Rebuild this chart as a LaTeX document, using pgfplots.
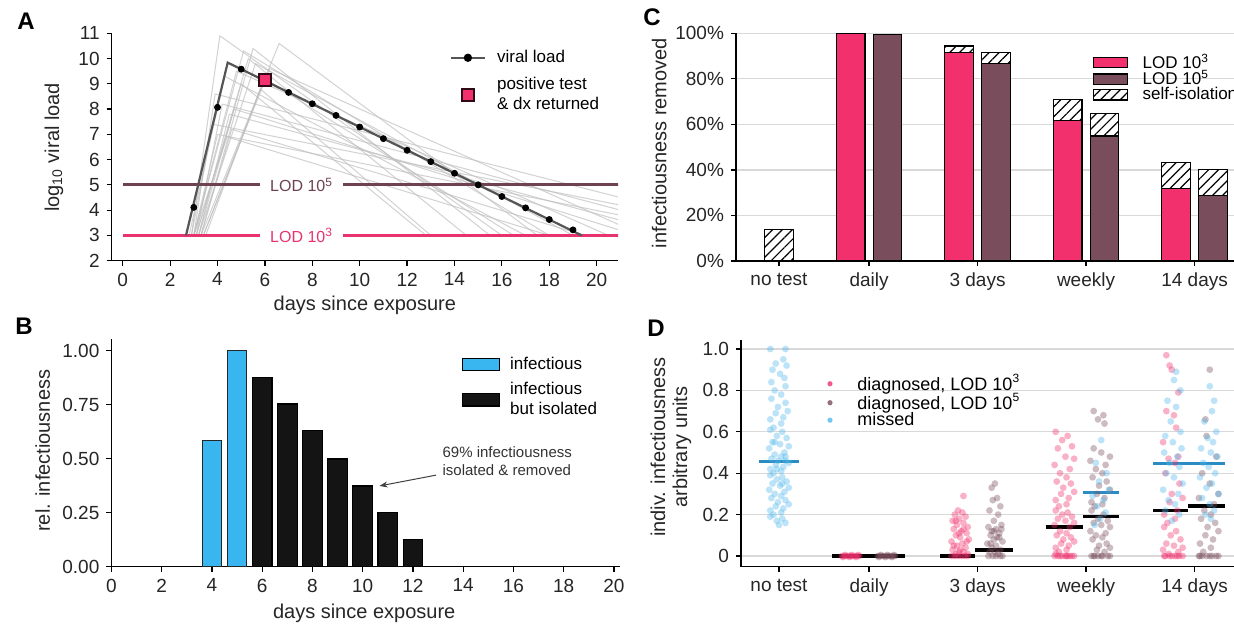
\documentclass[border=0pt]{standalone}
\usepackage{fontspec}
\setmainfont{Liberation Sans}
\usepackage{pgfplots}
\pgfplotsset{compat=1.18}
\usetikzlibrary{patterns.meta,arrows.meta}
\definecolor{pinkc}{HTML}{F2306E}
\definecolor{mauvec}{HTML}{7A4D5C}
\definecolor{blueb}{HTML}{39B5F0}
\definecolor{blued}{HTML}{4FB8EC}
\definecolor{bluemean}{HTML}{2B8CC4}
\definecolor{lodfive}{HTML}{6E4252}
\definecolor{lodthree}{HTML}{E8336E}
\definecolor{tickc}{HTML}{262626}
\definecolor{gridc}{HTML}{D9D9D9}
\definecolor{vl}{HTML}{555555}
\pgfplotsset{
  base/.style={
    scale only axis,
    axis lines=left,
    axis line style={-, line width=0.7pt, black},
    tick align=outside,
    major tick length=2.5pt,
    tick style={line width=0.6pt, black},
    tick label style={font=\fontsize{9.5}{10}\selectfont, text=tickc},
    /pgf/number format/assume math mode=true,
    label style={font=\fontsize{10}{11}\selectfont, text=tickc},
  },
  gl/.style={color=black!25, line width=0.5pt, opacity=0.7, forget plot},
  dpink/.style={only marks, mark=*, mark size=1.7pt, color=pinkc, mark options={draw opacity=0, fill opacity=0.38}, forget plot},
  dmauve/.style={only marks, mark=*, mark size=1.7pt, color=mauvec, mark options={draw opacity=0, fill opacity=0.38}, forget plot},
  dblue/.style={only marks, mark=*, mark size=1.7pt, color=blued, mark options={draw opacity=0, fill opacity=0.38}, forget plot},
  hatch/.style={fill=white, postaction={pattern={Lines[angle=45,distance=3.5pt,line width=0.6pt]}}},
}
\begin{document}
\begin{tikzpicture}
\useasboundingbox (0,0) rectangle (617pt,313pt);
\fill[white] (0,0) rectangle (617pt,313pt);

% ---------------- Panel A ----------------
\begin{axis}[base,
  at={(55.85pt,182.65pt)}, anchor=south west,
  width=253.15pt, height=113.7pt,
  xmin=-0.465, xmax=20.9, ymin=2, ymax=11,
  xtick={0,2,4,6,8,10,12,14,16,18,20}, ytick={2,3,4,5,6,7,8,9,10,11},
  xlabel={days since exposure}, ylabel={log\textsubscript{10} viral load},
  xlabel style={at={(axis description cs:0.5,-0.195)}, anchor=center},
  ylabel style={at={(axis description cs:-0.114,0.498)}, anchor=center},
  legend cell align=left,
  legend style={at={(axis description cs:0.655,0.963)}, anchor=north west, draw=none, fill=none,
    font=\fontsize{8.5}{10}\selectfont, cells={anchor=west, align=left}, row sep=2pt, column sep=3.5pt},
]
\addlegendimage{color=vl, line width=1.1pt, mark=*, mark options={black, scale=1}, mark size=1.5pt}
\addlegendentry{viral load}
\addlegendimage{only marks, mark=square*, mark size=3pt, mark options={fill=pinkc, draw=black!80!pinkc, line width=0.6pt}}
\addlegendentry{positive test\\\& dx returned}
\addplot[gl] coordinates {(2.9,3)(4.1,10.9)(16.0,3)};
\addplot[gl] coordinates {(3.3,3)(6.6,10.6)(17.5,3)};
\addplot[gl] coordinates {(3.0,3)(5.1,10.3)(18.0,3)};
\addplot[gl] coordinates {(3.1,3)(5.3,10.0)(14.5,3)};
\addplot[gl] coordinates {(3.2,3)(5.6,9.8)(19.0,3)};
\addplot[gl] coordinates {(3.0,3)(4.8,9.5)(20.5,3)};
\addplot[gl] coordinates {(3.4,3)(6.0,9.2)(16.5,3)};
\addplot[gl] coordinates {(3.0,3)(3.9,8.6)(21,4.5)};
\addplot[gl] coordinates {(3.1,3)(4.2,8.2)(21,4.0)};
\addplot[gl] coordinates {(3.2,3)(4.5,7.8)(21,3.6)};
\addplot[gl] coordinates {(2.9,3)(3.8,7.4)(21,4.2)};
\addplot[gl] coordinates {(3.3,3)(4.6,7.2)(19.5,3)};
\addplot[gl] coordinates {(3.0,3)(4.0,7.0)(21,3.8)};
\addplot[gl] coordinates {(3.5,3)(5.8,8.8)(13.0,3)};
\addplot[gl] coordinates {(3.2,3)(5.0,9.0)(12.8,3)};
\addplot[gl] coordinates {(3.0,3)(4.4,6.9)(18.0,3)};
\addplot[gl] coordinates {(3.3,3)(5.5,10.4)(15.5,3)};
\addplot[gl] coordinates {(3.1,3)(4.7,8.0)(21,3.2)};
\addplot[gl] coordinates {(3.4,3)(6.2,9.6)(21,3.4)};
\addplot[gl] coordinates {(2.8,3)(4.3,9.3)(17.0,3)};
\addplot[lodfive, line width=1.5pt, forget plot] coordinates {(0,5)(21,5)};
\addplot[lodthree, line width=1.5pt, forget plot] coordinates {(0,3)(21,3)};
\node[fill=white, inner xsep=5pt, inner ysep=1pt, text=lodfive, font=\fontsize{8}{9}\selectfont] at (axis cs:7.55,5) {LOD 10\textsuperscript{5}};
\node[fill=white, inner xsep=5pt, inner ysep=1pt, text=lodthree, font=\fontsize{8}{9}\selectfont] at (axis cs:7.55,3) {LOD 10\textsuperscript{3}};
\addplot[vl, line width=1.1pt, forget plot] coordinates {(2.67,3)(4.43,9.84)(19.37,3)};
\addplot[only marks, mark=*, mark size=1.5pt, black, forget plot] coordinates {(3,4.11)(4,8.07)(5,9.58)(7,8.66)(8,8.21)(9,7.75)(10,7.29)(11,6.83)(12,6.37)(13,5.92)(14,5.46)(15,5.00)(16,4.54)(17,4.09)(18,3.63)(19,3.22)};
\addplot[only marks, mark=square*, mark size=3pt, mark options={fill=pinkc, draw=black!80!pinkc, line width=0.6pt}, forget plot] coordinates {(6,9.15)};
\end{axis}

% ---------------- Panel B ----------------
\begin{axis}[base,
  at={(55.7pt,29.65pt)}, anchor=south west,
  width=254.3pt, height=113.7pt,
  xmin=0, xmax=20.24, ymin=0, ymax=1.053,
  xtick={0,2,4,6,8,10,12,14,16,18,20}, ytick={0,0.25,0.5,0.75,1},
  yticklabel style={/pgf/number format/.cd, fixed, fixed zerofill, precision=2},
  xlabel={days since exposure}, ylabel={rel. infectiousness},
  xlabel style={at={(axis description cs:0.497,-0.204)}, anchor=center},
  ylabel style={at={(axis description cs:-0.135,0.51)}, anchor=center},
  legend cell align=left,
  legend image code/.code={\draw[#1] (0pt,-3.1pt) rectangle (18.7pt,3.1pt);},
  legend style={at={(axis description cs:0.676,0.96)}, anchor=north west, draw=none, fill=none,
    font=\fontsize{8.5}{10}\selectfont, cells={anchor=west, align=left}, row sep=1pt, column sep=3pt},
]
\addlegendimage{fill=blueb, draw=black, line width=0.6pt}
\addlegendentry{infectious}
\addlegendimage{fill=black!92, draw=black, line width=0.6pt}
\addlegendentry{infectious\\but isolated}
\addplot[ybar, bar width=0.78, fill=blueb, draw=black!85, line width=0.6pt, forget plot] coordinates {(4,0.583)(5,1.0)};
\addplot[ybar, bar width=0.78, fill=black!92, draw=black, line width=0.6pt, forget plot] coordinates {(6,0.877)(7,0.753)(8,0.63)(9,0.499)(10,0.374)(11,0.25)(12,0.127)};
\draw[-{Stealth[length=4pt]}, black!75, line width=0.5pt] (axis cs:12.92,0.424) -- (axis cs:10.67,0.374);
\node[anchor=west, align=left, font=\fontsize{7.5}{9}\selectfont, text=black!80] at (axis cs:12.9,0.49) {69\% infectiousness\\isolated \& removed};
\end{axis}

% ---------------- Panel C ----------------
\begin{axis}[base,
  at={(368pt,182.5pt)}, anchor=south west,
  width=249.35pt, height=113.85pt,
  xmin=-0.396, xmax=4.2, ymin=0, ymax=100, clip=false,
  xtick={0,0.83,1.83,2.83,3.83}, xticklabels={no test,daily,3 days,weekly,14 days},
  ytick={0,20,40,60,80,100}, yticklabels={0\%,20\%,40\%,60\%,80\%,100\%},
  ymajorgrids, grid style={gridc, line width=0.6pt},
  ylabel={infectiousness removed},
  ylabel style={at={(axis description cs:-0.154,0.518)}, anchor=center},
  legend cell align=left,
  legend image code/.code={\draw[#1] (0pt,-2.6pt) rectangle (17pt,2.6pt);},
  legend style={at={(axis description cs:0.702,0.945)}, anchor=north west, draw=none, fill=none,
    font=\fontsize{8.5}{8.5}\selectfont, cells={anchor=west}, row sep=-4.2pt, column sep=5.5pt},
]
\addlegendimage{fill=pinkc, draw=black, line width=0.6pt}
\addlegendentry{LOD 10\textsuperscript{3}}
\addlegendimage{fill=mauvec, draw=black, line width=0.6pt}
\addlegendentry{LOD 10\textsuperscript{5}}
\addlegendimage{hatch, draw=black, line width=0.6pt}
\addlegendentry{self-isolation}
\addplot[ybar, bar width=0.265, bar shift=0, hatch, draw=black, line width=0.6pt, forget plot] coordinates {(0,13.9)};
\addplot[ybar, bar width=0.265, bar shift=-0.17, hatch, draw=black, line width=0.6pt, forget plot] coordinates {(1.83,94.4)(2.83,71.0)(3.83,43.2)};
\addplot[ybar, bar width=0.265, bar shift=-0.17, fill=pinkc, draw=black, line width=0.6pt, forget plot] coordinates {(0.83,100)(1.83,91.7)(2.83,61.6)(3.83,31.9)};
\addplot[ybar, bar width=0.265, bar shift=0.17, hatch, draw=black, line width=0.6pt, forget plot] coordinates {(1.83,91.7)(2.83,64.6)(3.83,40.3)};
\addplot[ybar, bar width=0.265, bar shift=0.17, fill=mauvec, draw=black, line width=0.6pt, forget plot] coordinates {(0.83,99.4)(1.83,86.8)(2.83,54.9)(3.83,28.6)};
\end{axis}

% ---------------- Panel D ----------------
\begin{axis}[base,
  at={(370.5pt,29.65pt)}, anchor=south west,
  width=246.85pt, height=113.35pt,
  xmin=-0.35, xmax=4.2, ymin=-0.0517, ymax=1.0435,
  xtick={0,0.83,1.83,2.83,3.83}, xticklabels={no test,daily,3 days,weekly,14 days},
  ytick={0,0.2,0.4,0.6,0.8,1}, yticklabels={0,0.2,0.4,0.6,0.8,1.0},
  ymajorgrids, grid style={gridc, line width=0.6pt},
  ylabel={indiv. infectiousness\\arbitrary units},
  ylabel style={align=center, at={(axis description cs:-0.142,0.528)}, anchor=center},
  legend cell align=left,
  legend image code/.code={\node[inner sep=0pt, minimum width=9pt, minimum height=2pt] at (4.5pt,0pt) {}; \draw[#1] plot coordinates {(2pt,0pt)};},
  legend style={at={(axis description cs:0.162,0.886)}, anchor=north west, draw=none, fill=none,
    font=\fontsize{9}{9}\selectfont, cells={anchor=west}, row sep=-4pt},
]
\addlegendimage{only marks, mark=*, mark size=1.3pt, color=pinkc, mark options={draw opacity=0, fill opacity=0.8}}
\addlegendentry{diagnosed, LOD 10\textsuperscript{3}}
\addlegendimage{only marks, mark=*, mark size=1.3pt, color=mauvec, mark options={draw opacity=0, fill opacity=0.8}}
\addlegendentry{diagnosed, LOD 10\textsuperscript{5}}
\addlegendimage{only marks, mark=*, mark size=1.3pt, color=blued, mark options={draw opacity=0, fill opacity=0.8}}
\addlegendentry{missed}
% no test
\addplot[dblue] coordinates {(-0.08,1.00)(0.06,1.00)(0.04,0.95)(-0.03,0.93)(0.07,0.92)(-0.06,0.90)(0.01,0.88)(0.05,0.86)(-0.07,0.84)(0.06,0.82)(-0.04,0.80)(0.02,0.78)(-0.07,0.76)(0.06,0.74)(-0.01,0.72)(0.08,0.70)(-0.03,0.69)(0.04,0.67)(-0.08,0.66)(0.02,0.64)(-0.05,0.62)(-0.08,0.61)(0.03,0.60)(-0.02,0.58)(0.07,0.57)(-0.06,0.55)(0.01,0.54)(0.09,0.53)(-0.09,0.52)(0.05,0.50)(-0.04,0.49)(0.02,0.48)(-0.07,0.47)(0.06,0.46)(-0.01,0.46)(0.09,0.45)(-0.03,0.44)(0.04,0.43)(-0.08,0.42)(0.02,0.41)(-0.05,0.40)(-0.08,0.39)(0.03,0.38)(-0.02,0.37)(0.07,0.36)(-0.06,0.35)(0.01,0.34)(0.09,0.33)(-0.09,0.32)(0.05,0.31)(-0.04,0.30)(0.02,0.29)(-0.07,0.28)(0.06,0.27)(-0.01,0.26)(0.09,0.25)(-0.03,0.24)(0.04,0.23)(-0.08,0.22)(0.02,0.21)(-0.05,0.20)(-0.08,0.19)(0.03,0.18)(-0.02,0.17)(0.06,0.16)(0.00,0.15)(-0.04,0.55)(0.06,0.48)(-0.02,0.42)(0.03,0.35)};
% daily
\addplot[dpink] coordinates {(0.58,0)(0.60,0)(0.62,0)(0.64,0)(0.66,0)(0.68,0)(0.70,0)(0.72,0)(0.74,0)(0.61,0.005)(0.67,0.005)(0.73,0.005)(0.59,-0.005)(0.65,-0.005)(0.71,-0.005)};
\addplot[dmauve] coordinates {(0.91,0)(0.93,0)(0.95,0)(0.97,0)(0.99,0)(1.01,0)(1.03,0)(1.05,0)(1.07,0)(0.94,0.005)(1.00,0.005)(1.06,0.005)(0.92,-0.005)(0.98,-0.005)(1.04,-0.005)};
% 3 days
\addplot[dpink] coordinates {(1.70,0.29)(1.65,0.22)(1.69,0.21)(1.62,0.20)(1.72,0.19)(1.66,0.18)(1.60,0.17)(1.70,0.16)(1.64,0.15)(1.74,0.14)(1.61,0.13)(1.68,0.12)(1.73,0.11)(1.63,0.10)(1.67,0.09)(1.75,0.08)(1.59,0.07)(1.69,0.06)(1.64,0.05)(1.72,0.04)(1.60,0.03)(1.66,0.02)(1.74,0.01)(1.62,0.0)(1.65,0.0)(1.68,0.0)(1.71,0.0)(1.74,0.0)(1.59,0.0)(1.63,0.01)(1.70,0.02)(1.67,0.03)(1.61,0.05)(1.73,0.07)(1.66,0.11)(1.70,0.13)(1.63,0.17)};
\addplot[dmauve] coordinates {(1.99,0.35)(1.96,0.33)(2.01,0.28)(1.97,0.27)(2.04,0.24)(1.94,0.22)(2.02,0.20)(1.98,0.17)(2.05,0.15)(1.93,0.14)(2.00,0.13)(1.96,0.12)(2.03,0.11)(1.95,0.10)(2.01,0.09)(1.98,0.08)(2.06,0.07)(1.92,0.06)(2.00,0.05)(1.96,0.04)(2.04,0.03)(1.94,0.02)(2.02,0.01)(1.97,0.0)(2.00,0.0)(2.04,0.0)(1.93,0.0)(2.06,0.0)(1.99,0.02)(1.95,0.06)(2.03,0.09)(1.98,0.12)(2.05,0.13)};
% weekly
\addplot[dpink] coordinates {(2.55,0.60)(2.66,0.58)(2.61,0.56)(2.70,0.53)(2.57,0.52)(2.64,0.48)(2.72,0.47)(2.54,0.44)(2.68,0.42)(2.59,0.40)(2.65,0.38)(2.56,0.36)(2.69,0.35)(2.62,0.33)(2.72,0.31)(2.60,0.30)(2.67,0.28)(2.55,0.27)(2.65,0.25)(2.58,0.24)(2.55,0.22)(2.66,0.21)(2.61,0.20)(2.70,0.19)(2.57,0.18)(2.64,0.17)(2.72,0.16)(2.54,0.15)(2.68,0.14)(2.59,0.12)(2.65,0.11)(2.56,0.10)(2.69,0.09)(2.62,0.08)(2.72,0.07)(2.60,0.06)(2.67,0.05)(2.55,0.04)(2.65,0.03)(2.58,0.02)(2.55,0.01)(2.66,0)(2.61,0)(2.70,0)(2.57,0)(2.64,0)(2.72,0)(2.54,0)(2.68,0)(2.59,0)(2.65,0)};
\addplot[dmauve] coordinates {(2.90,0.70)(2.99,0.68)(2.94,0.66)(3.00,0.64)(2.90,0.52)(2.97,0.50)(3.05,0.48)(2.87,0.46)(3.01,0.44)(2.92,0.42)(2.98,0.40)(2.89,0.38)(3.02,0.36)(2.95,0.34)(3.05,0.32)(2.93,0.30)(3.00,0.28)(2.88,0.26)(2.98,0.25)(2.91,0.24)(2.88,0.22)(2.99,0.20)(2.94,0.18)(3.03,0.17)(2.90,0.16)(2.97,0.15)(3.05,0.14)(2.87,0.12)(3.01,0.11)(2.92,0.10)(2.98,0.09)(2.89,0.08)(3.02,0.06)(2.95,0.05)(3.05,0.04)(2.93,0.03)(3.00,0.02)(2.88,0)(2.98,0)(2.91,0)(2.94,0)(3.03,0)(2.97,0)(3.05,0)(2.90,0)};
\addplot[dblue] coordinates {(2.97,0.56)(2.92,0.45)(3.02,0.40)(2.95,0.36)(3.04,0.32)(2.89,0.29)(2.99,0.27)(2.93,0.24)(3.01,0.21)(2.96,0.18)(2.91,0.15)};
% 14 days
\addplot[dpink] coordinates {(3.57,0.97)(3.60,0.92)(3.62,0.90)(3.68,0.79)(3.57,0.70)(3.64,0.68)(3.66,0.62)(3.54,0.55)(3.68,0.48)(3.59,0.47)(3.65,0.45)(3.56,0.40)(3.69,0.35)(3.62,0.30)(3.72,0.28)(3.60,0.26)(3.67,0.22)(3.55,0.20)(3.65,0.18)(3.58,0.16)(3.55,0.14)(3.66,0.12)(3.61,0.10)(3.70,0.08)(3.57,0.06)(3.64,0.05)(3.72,0.04)(3.54,0.03)(3.68,0.02)(3.59,0.01)(3.65,0)(3.56,0)(3.69,0)(3.62,0)(3.72,0)(3.60,0)(3.67,0)(3.55,0)};
\addplot[dblue] coordinates {(3.66,0.89)(3.64,0.85)(3.70,0.80)(3.58,0.75)(3.66,0.72)(3.61,0.65)(3.70,0.60)(3.56,0.58)(3.63,0.55)(3.71,0.52)(3.55,0.50)(3.67,0.48)(3.60,0.45)(3.69,0.43)(3.57,0.40)(3.64,0.38)(3.72,0.35)(3.54,0.32)(3.68,0.30)(3.59,0.27)(3.65,0.25)(3.56,0.22)(3.69,0.20)(3.62,0.17)};
\addplot[dmauve] coordinates {(3.97,0.90)(3.93,0.66)(3.94,0.58)(4.03,0.48)(3.90,0.40)(3.97,0.35)(4.05,0.30)(3.87,0.28)(4.01,0.25)(3.92,0.22)(3.98,0.20)(3.89,0.18)(4.02,0.16)(3.95,0.14)(4.05,0.12)(3.93,0.10)(4.00,0.08)(3.88,0.06)(3.98,0.04)(3.91,0.02)(3.88,0)(3.99,0)(3.94,0)(4.03,0)(3.90,0)(3.97,0)(4.05,0)(3.87,0)};
\addplot[dblue] coordinates {(3.97,0.82)(4.01,0.75)(3.99,0.70)(3.92,0.65)(4.03,0.60)(3.95,0.57)(4.00,0.55)(3.89,0.52)(3.98,0.50)(4.04,0.48)(3.91,0.45)(3.96,0.43)(4.02,0.40)(3.88,0.38)(3.99,0.35)(3.94,0.33)(4.05,0.30)(3.90,0.28)(3.97,0.25)(4.01,0.22)(3.93,0.20)(3.98,0.18)};
% means
\addplot[bluemean, line width=1.6pt, forget plot] coordinates {(-0.18,0.455)(0.18,0.455)};
\addplot[black, line width=1.6pt, forget plot] coordinates {(0.49,0)(1.16,0)};
\addplot[black, line width=1.6pt, forget plot] coordinates {(1.48,0)(1.81,0)};
\addplot[black, line width=1.6pt, forget plot] coordinates {(1.81,0.029)(2.16,0.029)};
\addplot[black, line width=1.6pt, forget plot] coordinates {(2.46,0.14)(2.80,0.14)};
\addplot[black, line width=1.6pt, forget plot] coordinates {(2.80,0.19)(3.13,0.19)};
\addplot[bluemean, line width=1.6pt, forget plot] coordinates {(2.80,0.305)(3.13,0.305)};
\addplot[black, line width=1.6pt, forget plot] coordinates {(3.45,0.219)(3.77,0.219)};
\addplot[black, line width=1.6pt, forget plot] coordinates {(3.77,0.242)(4.11,0.242)};
\addplot[bluemean, line width=1.6pt, forget plot] coordinates {(3.45,0.448)(4.11,0.448)};
\end{axis}

% panel letters
\node[font=\bfseries\fontsize{12}{12}\selectfont] at (13pt,302.5pt) {A};
\node[font=\bfseries\fontsize{12}{12}\selectfont] at (12pt,150pt) {B};
\node[font=\bfseries\fontsize{12}{12}\selectfont] at (326pt,304.5pt) {C};
\node[font=\bfseries\fontsize{12}{12}\selectfont] at (328pt,149pt) {D};
\end{tikzpicture}
\end{document}
